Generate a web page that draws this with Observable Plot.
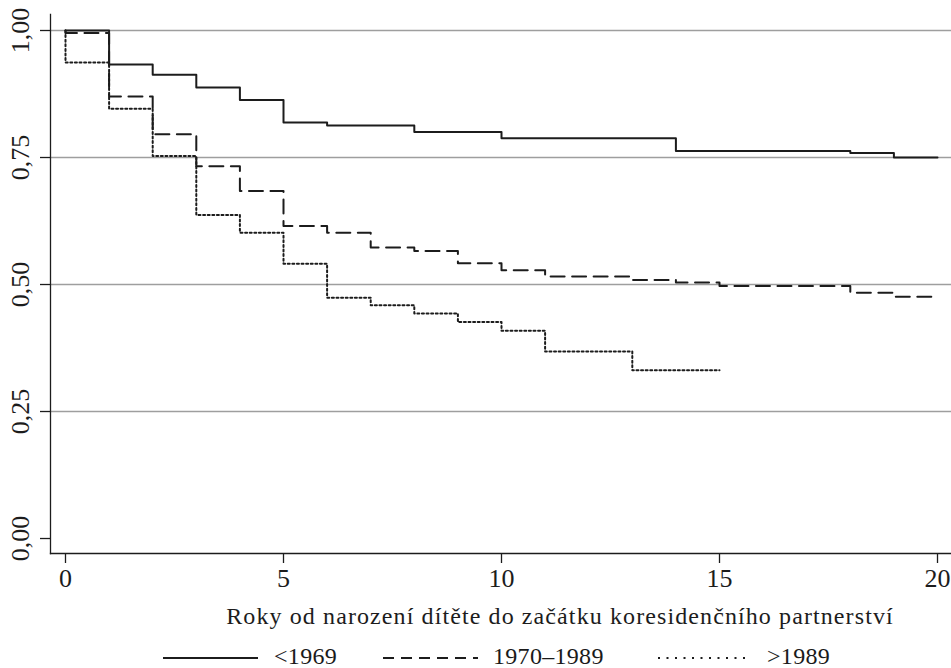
<!DOCTYPE html>
<html><head><meta charset="utf-8">
<script src="https://cdn.jsdelivr.net/npm/d3@7"></script>
<script src="https://cdn.jsdelivr.net/npm/@observablehq/plot@0.6"></script>
<style>
body{margin:0;background:#fff;font-family:"Liberation Serif",serif;}
#wrap{position:relative;width:951px;height:668px;overflow:hidden;background:#fff}
#chart svg text{font-size:24px;font-family:"Liberation Serif",serif}
#chart svg g[aria-label$="tick label"] text{font-size:26px}
#chart svg g[aria-label$="tick label"]{font-size:26px}
#legend{position:absolute;left:0;top:644px;width:951px;height:24px;font-size:24px;color:#1a1a1a}
#legend .it{position:absolute;top:0;height:24px;line-height:24px;letter-spacing:0.3px}
</style>
</head><body>
<div id="wrap"><div id="chart"></div><div id="legend"></div></div>
<script>
const seriesNames = ["<1969", "1970\u20131989", ">1989"];
const times1969 = [0, 1, 2, 3, 4, 5, 6, 8, 10, 14, 18, 19, 20];
const surv1969  = [1.000, 0.933, 0.913, 0.888, 0.863, 0.819, 0.813, 0.800, 0.788, 0.763, 0.759, 0.750, 0.750];
const times7089 = [0, 0, 1, 2, 3, 4, 5, 6, 7, 8, 9, 10, 11, 13, 14, 15, 18, 19, 20];
const surv7089  = [1.000, 0.995, 0.870, 0.796, 0.733, 0.684, 0.615, 0.602, 0.573, 0.566, 0.542, 0.528, 0.516, 0.509, 0.504, 0.497, 0.484, 0.476, 0.476];
const times89   = [0, 0, 1, 2, 3, 4, 5, 6, 7, 8, 9, 10, 11, 13, 15];
const surv89    = [1.000, 0.937, 0.846, 0.753, 0.637, 0.602, 0.541, 0.474, 0.459, 0.443, 0.426, 0.409, 0.368, 0.331, 0.331];
const xTicks = [0, 5, 10, 15, 20];
const yTicks = [0, 0.25, 0.5, 0.75, 1];
const gridValues = [0.25, 0.5, 0.75, 1];
const xTitle = "Roky od narození dítěte do začátku koresidenčního partnerství";

const dashes = ["none", "14,7.5", "2,2.6"];
const legendDashes = ["none", "11,7", "2,6.5"];
const ink = "#1c1c1c";

const rows = [];
[[times1969, surv1969], [times7089, surv7089], [times89, surv89]].forEach(([t, s], k) => {
  t.forEach((v, i) => rows.push({series: seriesNames[k], t: v, s: s[i]}));
});

const fmt = d => d.toFixed(2).replace(".", ",");

const chart = Plot.plot({
  width: 951,
  height: 640,
  marginLeft: 50,
  marginRight: 0,
  marginTop: 14,
  marginBottom: 87,
  style: {fontFamily: "Liberation Serif, serif", fontSize: "24px", color: ink, background: "#fff"},
  x: {domain: [-0.344, 20.321]},
  y: {domain: [-0.0295, 1.0315]},
  marks: [
    Plot.ruleY(gridValues, {stroke: "#9e9e9e", strokeWidth: 1.3}),
    Plot.axisX({ticks: xTicks, tickSize: 10, tickPadding: 5, tickFormat: d => String(d), label: null, stroke: ink, strokeWidth: 1.3, fill: ink}),
    Plot.axisY({ticks: yTicks, tickSize: 10, tickPadding: 12, tickFormat: fmt, tickRotate: -90, label: null, stroke: ink, strokeWidth: 1.3, fill: ink}),
    Plot.frame({anchor: "left", stroke: ink, strokeWidth: 1.3}),
    Plot.frame({anchor: "bottom", stroke: ink, strokeWidth: 1.3}),
    ...seriesNames.map((name, k) => Plot.line(rows.filter(r => r.series === name), {
      x: "t", y: "s", curve: "step-after", stroke: ink, strokeWidth: 2,
      strokeDasharray: dashes[k] === "none" ? undefined : dashes[k]
    })),
    Plot.text([xTitle], {frameAnchor: "bottom", dy: 70, dx: 59, fill: ink})
  ]
});
document.getElementById("chart").appendChild(chart);
d3.select(chart).selectAll("text").filter(function() { return this.textContent === xTitle; })
  .style("letter-spacing", "1.1px");

// legend
const leg = document.getElementById("legend");
const legPos = [[163, 258, 274], [383, 478, 493], [658, 745, 767]];
seriesNames.forEach((name, k) => {
  const [x0, x1, tx] = legPos[k];
  const sw = document.createElementNS("http://www.w3.org/2000/svg", "svg");
  sw.setAttribute("width", x1 - x0);
  sw.setAttribute("height", 24);
  sw.style.position = "absolute";
  sw.style.left = x0 + "px";
  sw.style.top = "0px";
  const ln = document.createElementNS("http://www.w3.org/2000/svg", "line");
  ln.setAttribute("x1", 0); ln.setAttribute("x2", x1 - x0);
  ln.setAttribute("y1", 14); ln.setAttribute("y2", 14);
  ln.setAttribute("stroke", ink); ln.setAttribute("stroke-width", 2);
  if (legendDashes[k] !== "none") ln.setAttribute("stroke-dasharray", legendDashes[k]);
  sw.appendChild(ln);
  leg.appendChild(sw);
  const sp = document.createElement("span");
  sp.className = "it";
  sp.style.left = tx + "px";
  sp.textContent = name;
  leg.appendChild(sp);
});
</script>
</body></html>
